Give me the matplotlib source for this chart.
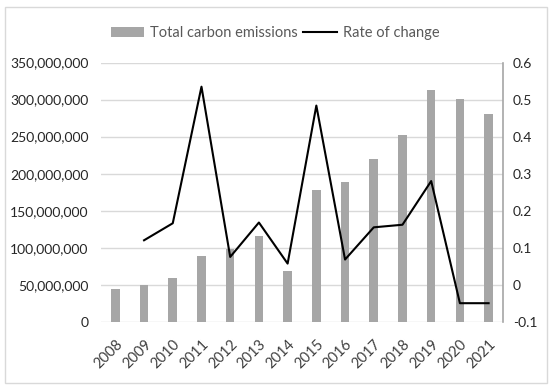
import numpy as np
import matplotlib
matplotlib.use("Agg")
import matplotlib.pyplot as plt
from matplotlib.patches import Rectangle

plt.rcParams["font.family"] = ["Lato", "DejaVu Sans"]

years = ["2008", "2009", "2010", "2011", "2012", "2013", "2014",
         "2015", "2016", "2017", "2018", "2019", "2020", "2021"]
emissions = [44e6, 50e6, 59e6, 89e6, 98e6, 116e6, 69e6,
             178e6, 189e6, 220e6, 252e6, 313e6, 301e6, 281e6]
rate = [np.nan, 0.12, 0.166, 0.535, 0.075, 0.168, 0.057,
        0.484, 0.068, 0.155, 0.162, 0.28, -0.05, -0.05]

fig = plt.figure(figsize=(5.5, 3.89), dpi=100)
ax = fig.add_axes([0.1836, 0.173, 0.7309, 0.666])
ax2 = ax.twinx()

x = np.arange(len(years))
bars = ax.bar(x, emissions, width=0.3, color="#a6a6a6", label="Total carbon emissions", zorder=2)
line, = ax2.plot(x, rate, color="black", lw=1.5, label="Rate of change")

ax.set_xlim(-0.5, len(years) - 0.5)
ax.set_ylim(0, 350e6)
ax.set_yticks(np.arange(0, 350e6 + 1, 50e6))
ax.set_yticklabels(["{:,.0f}".format(v) for v in np.arange(0, 350e6 + 1, 50e6)])
ax.set_xticks(x)
ax.set_xticklabels(years, rotation=45, ha="right", rotation_mode="anchor")
ax.yaxis.grid(True, color="#d9d9d9", lw=1, zorder=0)
ax.set_axisbelow(True)

ax2.set_ylim(-0.1, 0.6)
ax2.set_yticks([-0.1, 0, 0.1, 0.2, 0.3, 0.4, 0.5, 0.6])
ax2.set_yticklabels(["-0.1", "0", "0.1", "0.2", "0.3", "0.4", "0.5", "0.6"])

for a in (ax, ax2):
    for s in a.spines.values():
        s.set_visible(False)
ax2.spines["right"].set_visible(True)
ax2.spines["right"].set_color("#a6a6a6")
ax2.spines["right"].set_linewidth(1.2)

ax.tick_params(axis="y", length=0, pad=9, labelsize=10, labelcolor="#262626")
ax.tick_params(axis="x", length=0, pad=11, labelsize=10.5, labelcolor="#404040")
ax2.tick_params(axis="y", length=0, pad=7, labelsize=10, labelcolor="#262626")

fig.legend(handles=[bars, line], loc="center", bbox_to_anchor=(0.5, 0.915), ncol=2,
           frameon=False, fontsize=10.5, labelcolor="#595959", handlelength=2.3,
           handletextpad=0.4, columnspacing=0.4)

fig.patches.append(Rectangle((5 / 550, 1 - 383 / 389), 542 / 550, 376 / 389,
                             transform=fig.transFigure, fill=False,
                             edgecolor="#d9d9d9", lw=1))

fig.savefig("out.png", dpi=100)
